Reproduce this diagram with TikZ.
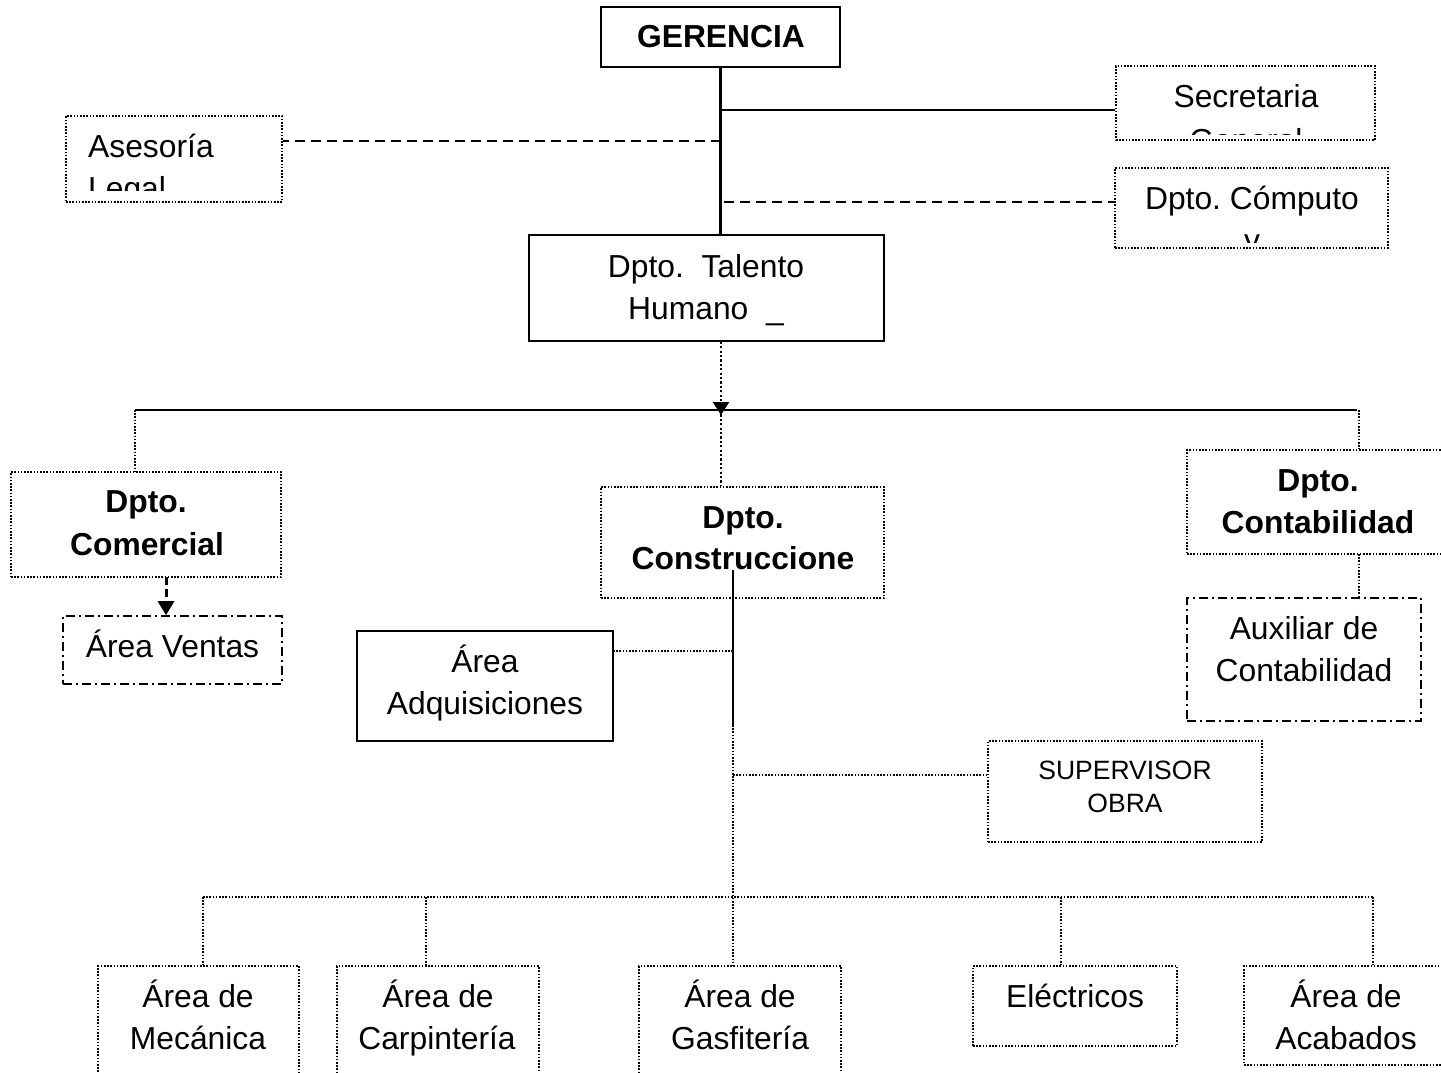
\documentclass[tikz,border=0pt]{standalone}
\usepackage{fontspec}
\setmainfont{Liberation Sans}
\usetikzlibrary{arrows.meta}
\frenchspacing
\tikzset{
  box/.style={draw, inner sep=0pt, line width=1.6pt},
  dotbox/.style={box, dash pattern=on 1.6pt off 1.6pt},
  dashdotbox/.style={box, dash pattern=on 9pt off 4pt on 2pt off 4pt},
  txt/.style={inner sep=0pt, anchor=base, font=\fontsize{31.8}{42}\selectfont},
  btxt/.style={txt, font=\fontsize{31.8}{42}\selectfont\bfseries},
  stxt/.style={txt, font=\fontsize{26.5}{33}\selectfont},
  thickline/.style={line width=2.5pt},
  thinline/.style={line width=1.6pt},
  dotline/.style={line width=1.6pt, dash pattern=on 1.6pt off 1.6pt},
  heavydot/.style={line width=2.5pt, dash pattern=on 2.2pt off 2.2pt},
  dashline/.style={line width=2pt, dash pattern=on 10pt off 6pt},
  tip/.style={-{Triangle[width=16pt,length=13pt]}}
}
\begin{document}
\begin{tikzpicture}[x=1pt,y=-1pt]
\useasboundingbox (0,0) rectangle (1441,1073);
\fill[white] (0,0) rectangle (1441,1073);

% ---------- boxes ----------
\node[box, minimum width=239, minimum height=60] (ger) at (720.5,37) {};
\node[dotbox, minimum width=259, minimum height=74] (sec) at (1245.5,103) {};
\node[dotbox, minimum width=216, minimum height=86] (ase) at (174,159) {};
\node[dotbox, minimum width=273, minimum height=80] (comp) at (1251.5,208) {};
\node[box, minimum width=355, minimum height=106] (tal) at (706.5,288) {};
\node[dotbox, minimum width=270, minimum height=105] (com) at (146,524.5) {};
\node[dashdotbox, minimum width=219, minimum height=68] (ven) at (172.5,650) {};
\node[dotbox, minimum width=283, minimum height=111] (cons) at (742.5,542.5) {};
\node[dotbox, minimum width=262, minimum height=104] (cont) at (1318,502) {};
\node[dashdotbox, minimum width=234, minimum height=123] (aux) at (1304,659.5) {};
\node[box, line width=2pt, minimum width=256, minimum height=110] (adq) at (485,686) {};
\node[dotbox, minimum width=274, minimum height=101] (sup) at (1125,791.5) {};
\node[dotbox, minimum width=201, minimum height=124] (mec) at (198.5,1028) {};
\node[dotbox, minimum width=202, minimum height=124] (car) at (438,1028) {};
\node[dotbox, minimum width=202, minimum height=124] (gas) at (740,1028) {};
\node[dotbox, minimum width=204, minimum height=80] (ele) at (1075,1006) {};
\node[dotbox, minimum width=205, minimum height=99] (aca) at (1346.5,1015.5) {};

% ---------- texts ----------
\node[btxt] (ger-t) at (721,48) {GERENCIA};
\begin{scope}
  \clip (1117,67) rectangle (1374,134);
  \node[txt] (sec-t1) at (1246,107) {Secretaria};
  \node[txt] (sec-t2) at (1246,151) {General};
\end{scope}
\begin{scope}
  \clip (67,117) rectangle (281,190);
  \node[txt, anchor=base west] (ase-t1) at (88,157) {Asesoría};
  \node[txt, anchor=base west] (ase-t2) at (88,199) {Legal};
\end{scope}
\begin{scope}
  \clip (1116,169) rectangle (1387,242);
  \node[txt] (comp-t1) at (1252,209) {Dpto. Cómputo};
  \node[txt] (comp-t2) at (1252,251) {y};
\end{scope}
\node[txt] (tal-t1) at (706,277) {Dpto.\ \ Talento};
\node[txt] (tal-t2) at (706,319) {Humano\ \ \_};
\node[btxt] (com-t1) at (146,512) {Dpto.};
\node[btxt] (com-t2) at (147,555) {Comercial};
\node[txt] (ven-t) at (172.5,657) {Área Ventas};
\node[btxt] (cons-t1) at (743,528) {Dpto.};
\node[btxt] (cons-t2) at (743,569) {Construccione};
\node[btxt] (cont-t1) at (1318,491) {Dpto.};
\node[btxt] (cont-t2) at (1318,533) {Contabilidad};
\node[txt] (aux-t1) at (1304,639) {Auxiliar de};
\node[txt] (aux-t2) at (1304,681) {Contabilidad};
\node[txt] (adq-t1) at (485,672) {Área};
\node[txt] (adq-t2) at (485,714) {Adquisiciones};
\node[stxt] (sup-t1) at (1125,779.5) {SUPERVISOR};
\node[stxt] (sup-t2) at (1125,812.5) {OBRA};
\node[txt] (mec-t1) at (198,1007) {Área de};
\node[txt] (mec-t2) at (198,1049) {Mecánica};
\node[txt] (car-t1) at (438,1007) {Área de};
\node[txt] (car-t2) at (437,1049) {Carpintería};
\node[txt] (gas-t1) at (740,1007) {Área de};
\node[txt] (gas-t2) at (740,1049) {Gasfitería};
\node[txt] (ele-t) at (1075,1007) {Eléctricos};
\node[txt] (aca-t1) at (1346,1007) {Área de};
\node[txt] (aca-t2) at (1346,1049) {Acabados};

% ---------- connectors ----------
\draw[thickline] (ger.south) -- (ger.south |- tal.north);
\coordinate (jsec) at (721,110);
\draw[thinline] (jsec) -- (jsec -| sec.west);
\coordinate (jase) at (721,141);
\draw[dashline] (jase) -- (jase -| ase.east);
\coordinate (jcomp) at (724,202);
\draw[dashline] (jcomp) -- (jcomp -| comp.west);

\coordinate (hl) at (135,410);
\coordinate (hr) at (1357,410);
\draw[thickline] (hl) -- (hr);
\coordinate (jcons) at (721,410);
\coordinate (tiph) at (721,415);
\draw[heavydot] (jcons) -- (jcons |- cons.north);
\draw[heavydot, tip] (tiph |- tal.south) -- (tiph);
\draw[dotline] (hl) -- (hl |- com.north);
\coordinate (jcont) at (1359,410);
\draw[dotline] (jcont) -- (jcont |- cont.north);

\coordinate (cv) at (166,577);
\draw[line width=3pt, dash pattern=on 8pt off 4pt, -{Triangle[width=16pt,length=14pt]}] (cv) -- (cv |- ven.north);
\coordinate (ca) at (1359,554);
\draw[dotline] (ca) -- (ca |- aux.north);

\coordinate (vtop) at (733,570);
\coordinate (vmid) at (733,725);
\draw[line width=2pt] (vtop) -- (vmid);
\draw[dotline] (vmid) -- (vmid |- gas.north);
\coordinate (jadq) at (733,651);
\draw[dotline] (jadq) -- (jadq -| adq.east);
\coordinate (jsup) at (733,775);
\draw[dotline] (jsup) -- (jsup -| sup.west);

\coordinate (bl) at (203,897);
\coordinate (br) at (1373,897);
\draw[dotline] (bl) -- (br);
\draw[dotline] (bl) -- (bl |- mec.north);
\coordinate (dcar) at (426,897);
\draw[dotline] (dcar) -- (dcar |- car.north);
\coordinate (dele) at (1061,897);
\draw[dotline] (dele) -- (dele |- ele.north);
\draw[dotline] (br) -- (br |- aca.north);
\end{tikzpicture}
\end{document}
